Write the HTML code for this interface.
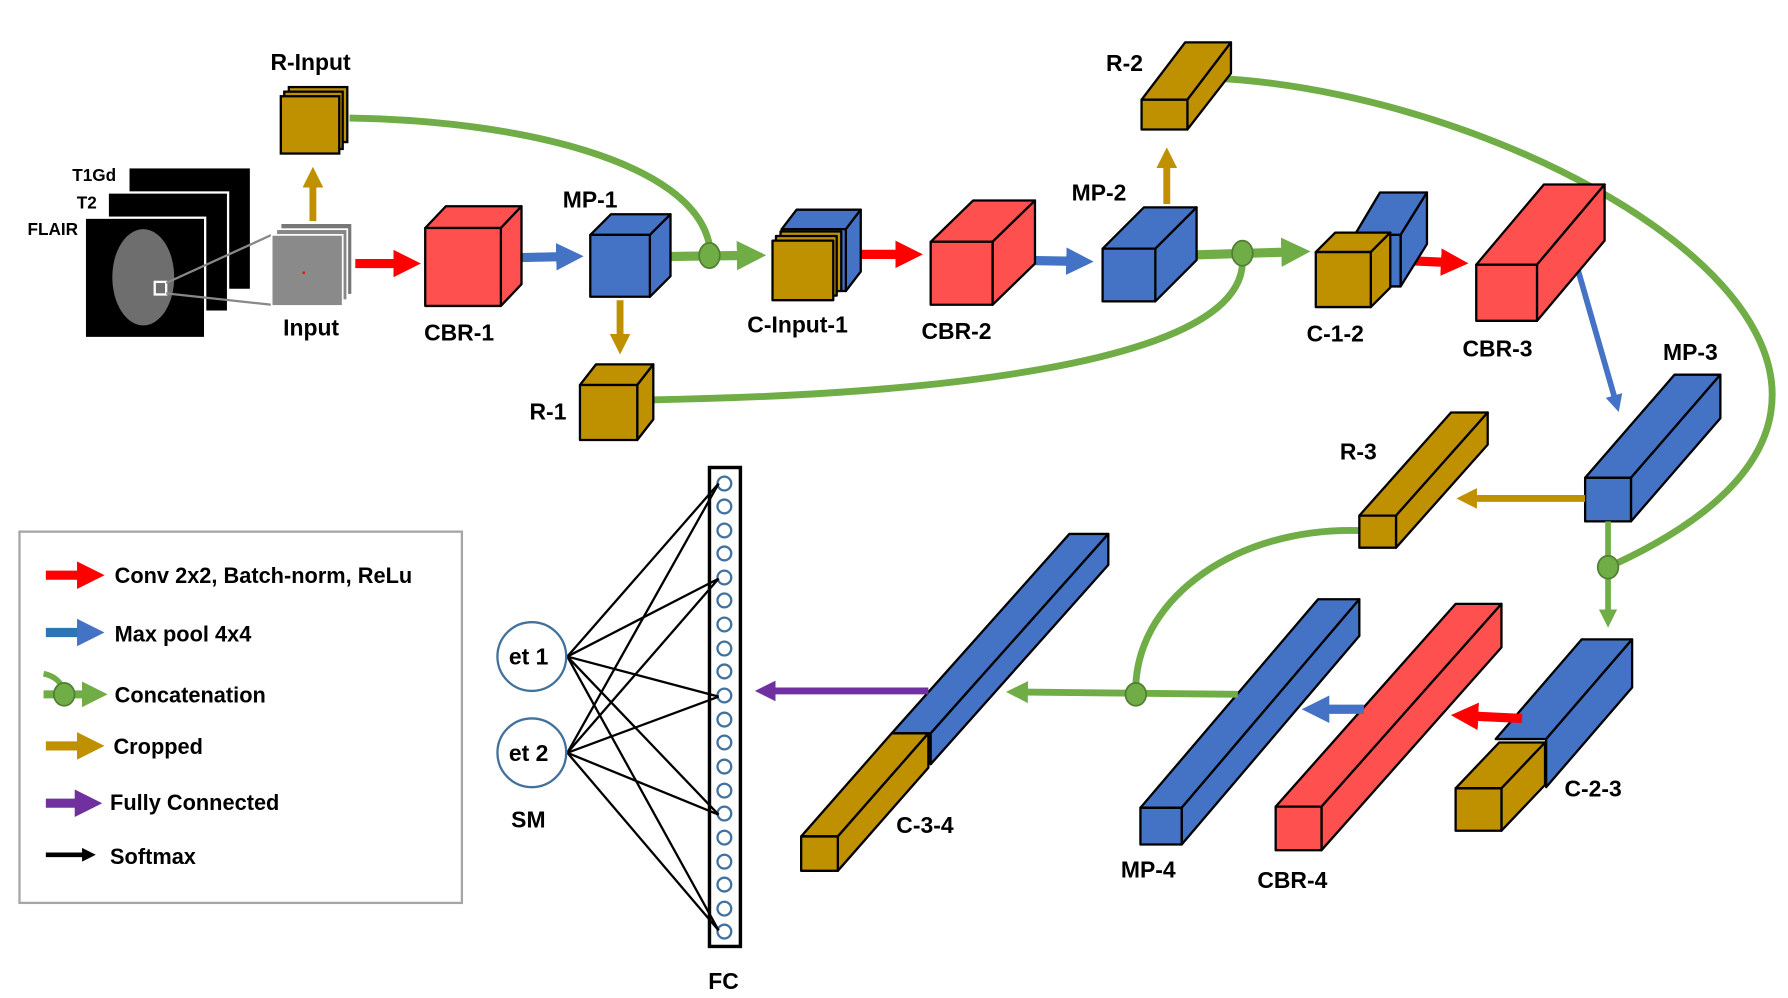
<!DOCTYPE html>
<html><head><meta charset="utf-8"><style>
html,body{margin:0;padding:0;background:#fff;}
svg{display:block;}
text{font-family:"Liberation Sans",sans-serif;font-weight:bold;fill:#000;}
</style></head><body>
<svg width="1788" height="998" viewBox="0 0 1560 871" preserveAspectRatio="none" xmlns="http://www.w3.org/2000/svg">
<defs>
<marker id="mr" viewBox="0 0 10 10" refX="2" refY="5" markerWidth="3" markerHeight="3" orient="auto"><path d="M0,0L10,5L0,10z" fill="#FF0000"/></marker>
<marker id="mb" viewBox="0 0 10 10" refX="2" refY="5" markerWidth="3" markerHeight="3" orient="auto"><path d="M0,0L10,5L0,10z" fill="#4472C4"/></marker>
<marker id="mg" viewBox="0 0 10 10" refX="2" refY="5" markerWidth="3.2" markerHeight="3.2" orient="auto"><path d="M0,0L10,5L0,10z" fill="#70AD47"/></marker>
<marker id="my" viewBox="0 0 10 10" refX="2" refY="5" markerWidth="3" markerHeight="3" orient="auto"><path d="M0,0L10,5L0,10z" fill="#BF9000"/></marker>
<marker id="mp" viewBox="0 0 10 10" refX="2" refY="5" markerWidth="3" markerHeight="3" orient="auto"><path d="M0,0L10,5L0,10z" fill="#7030A0"/></marker>
<marker id="mk" viewBox="0 0 10 10" refX="2" refY="5" markerWidth="3" markerHeight="3" orient="auto"><path d="M0,0L10,5L0,10z" fill="#000"/></marker>
</defs>

<g fill="none" stroke="#70AD47" stroke-width="6">
<path d="M305,103 C450,105 605,140 619,214"/>
<path d="M566,349 C800,345 1080,320 1084,230"/>
<path d="M1055,68 C1350,80 1770,330 1403,495"/>
<path d="M1186,463 C1080,460 995,520 991,597"/>
</g>

<rect x="113" y="147" width="105" height="105" fill="#000"/>
<rect x="94" y="168" width="105" height="104" fill="#000" stroke="#fff" stroke-width="2"/>
<rect x="74" y="190" width="105" height="105" fill="#000" stroke="#fff" stroke-width="2"/>
<ellipse cx="125" cy="242" rx="27" ry="42" fill="#6e6e6e"/>
<rect x="135" y="246" width="10" height="11" fill="none" stroke="#fff" stroke-width="2"/>
<line x1="145" y1="247" x2="237" y2="205" stroke="#888" stroke-width="2"/>
<line x1="145" y1="256" x2="237" y2="266" stroke="#888" stroke-width="2"/>
<text x="63" y="158" font-size="15">T1Gd</text>
<text x="67" y="182" font-size="15">T2</text>
<text x="24" y="205" font-size="15">FLAIR</text>

<rect x="245" y="195" width="62" height="62" fill="#777" stroke="#fff" stroke-width="1"/>
<rect x="241" y="200" width="62" height="62" fill="#888" stroke="#fff" stroke-width="1.5"/>
<rect x="237" y="205" width="62" height="62" fill="#8a8a8a" stroke="#fff" stroke-width="1.5"/>
<rect x="264" y="237" width="2" height="2" fill="red"/>
<text x="247" y="293" font-size="20">Input</text>

<rect x="252" y="76" width="51" height="48" fill="#BF9000" stroke="#000" stroke-width="2"/>
<rect x="248" y="80" width="51" height="50" fill="#BF9000" stroke="#000" stroke-width="2"/>
<rect x="245" y="84" width="51" height="50" fill="#BF9000" stroke="#000" stroke-width="2"/>
<text x="236" y="61" font-size="20">R-Input</text>

<line x1="273" y1="193" x2="273" y2="160" stroke="#BF9000" stroke-width="6" marker-end="url(#my)"/>
<line x1="310" y1="230" x2="348" y2="230" stroke="#FF0000" stroke-width="8" marker-end="url(#mr)"/>
<line x1="443" y1="225" x2="490" y2="224" stroke="#4472C4" stroke-width="8" marker-end="url(#mb)"/>
<line x1="541" y1="262" x2="541" y2="295" stroke="#BF9000" stroke-width="6" marker-end="url(#my)"/>
<line x1="570" y1="224" x2="648" y2="223" stroke="#70AD47" stroke-width="8" marker-end="url(#mg)"/>
<ellipse cx="619" cy="223" rx="9" ry="11" fill="#70AD47" stroke="#507E32" stroke-width="1.5"/>
<line x1="737" y1="222" x2="786" y2="222" stroke="#FF0000" stroke-width="8" marker-end="url(#mr)"/>
<line x1="880" y1="227" x2="935" y2="228" stroke="#4472C4" stroke-width="8" marker-end="url(#mb)"/>
<line x1="1018" y1="178" x2="1018" y2="143" stroke="#BF9000" stroke-width="6" marker-end="url(#my)"/>
<line x1="1025" y1="223" x2="1123" y2="220" stroke="#70AD47" stroke-width="8" marker-end="url(#mg)"/>
<ellipse cx="1084" cy="221" rx="9" ry="11" fill="#70AD47" stroke="#507E32" stroke-width="1.5"/>
<line x1="1217" y1="227" x2="1262" y2="229" stroke="#FF0000" stroke-width="8" marker-end="url(#mr)"/>
<line x1="1374" y1="226" x2="1409" y2="348" stroke="#4472C4" stroke-width="5" marker-end="url(#mb)"/>

<g stroke="#000" stroke-width="2" stroke-linejoin="round">
<polygon points="371,199 389,180 455,180 437,199" fill="#FF5050"/>
<polygon points="437,199 455,180 455,248 437,267" fill="#FF5050"/>
<rect x="371" y="199" width="66" height="68" fill="#FF5050"/>
<polygon points="515,205 533,187 585,187 567,205" fill="#4472C4"/>
<polygon points="567,205 585,187 585,241 567,259" fill="#4472C4"/>
<rect x="515" y="205" width="52" height="54" fill="#4472C4"/>
<polygon points="506,336 520,318 570,318 556,336" fill="#BF9000"/>
<polygon points="556,336 570,318 570,366 556,384" fill="#BF9000"/>
<rect x="506" y="336" width="50" height="48" fill="#BF9000"/>
<polygon points="682,200 695,183 751,183 738,200" fill="#4472C4"/>
<polygon points="738,200 751,183 751,237 738,254" fill="#4472C4"/>
<rect x="682" y="200" width="56" height="54" fill="#4472C4"/>
<rect x="681" y="202" width="53" height="52" fill="#BF9000"/>
<rect x="677" y="206" width="53" height="52" fill="#BF9000"/>
<rect x="674" y="210" width="53" height="52" fill="#BF9000"/>
<polygon points="812,211 849,175 903,175 866,211" fill="#FF5050"/>
<polygon points="866,211 903,175 903,230 866,266" fill="#FF5050"/>
<rect x="812" y="211" width="54" height="55" fill="#FF5050"/>
<polygon points="962,217 998,181 1044,181 1008,217" fill="#4472C4"/>
<polygon points="1008,217 1044,181 1044,227 1008,263" fill="#4472C4"/>
<rect x="962" y="217" width="46" height="46" fill="#4472C4"/>
<polygon points="996,87 1034,37 1074,37 1036,87" fill="#BF9000"/>
<polygon points="1036,87 1074,37 1074,64 1036,113" fill="#BF9000"/>
<rect x="996" y="87" width="40" height="26" fill="#BF9000"/>
<polygon points="1182,205 1204,168 1245,168 1222,205" fill="#4472C4"/>
<polygon points="1222,205 1245,168 1245,213 1222,250" fill="#4472C4"/>
<rect x="1182" y="205" width="40" height="45" fill="#4472C4"/>
<polygon points="1148,220 1165,203 1213,203 1196,220" fill="#BF9000"/>
<polygon points="1196,220 1213,203 1213,251 1196,268" fill="#BF9000"/>
<rect x="1148" y="220" width="48" height="48" fill="#BF9000"/>
<polygon points="1288,231 1347,161 1400,161 1341,231" fill="#FF5050"/>
<polygon points="1341,231 1400,161 1400,210 1341,280" fill="#FF5050"/>
<rect x="1288" y="231" width="53" height="49" fill="#FF5050"/>
<polygon points="1383,417 1461,327 1501,327 1423,417" fill="#4472C4"/>
<polygon points="1423,417 1501,327 1501,365 1423,455" fill="#4472C4"/>
<rect x="1383" y="417" width="40" height="38" fill="#4472C4"/>
<polygon points="1186,450 1266,360 1298,360 1218,450" fill="#BF9000"/>
<polygon points="1218,450 1298,360 1298,388 1218,478" fill="#BF9000"/>
<rect x="1186" y="450" width="32" height="28" fill="#BF9000"/>
</g>

<line x1="1383" y1="435" x2="1285" y2="435" stroke="#BF9000" stroke-width="6" marker-end="url(#my)"/>
<line x1="1403" y1="455" x2="1403" y2="535" stroke="#70AD47" stroke-width="5" marker-end="url(#mg)"/>
<ellipse cx="1403" cy="495" rx="9" ry="10" fill="#70AD47" stroke="#507E32" stroke-width="1.5"/>

<g stroke="#000" stroke-width="2" stroke-linejoin="round">
<polygon points="1305,645 1380,558 1424,558 1349,645" fill="#4472C4"/>
<polygon points="1349,645 1424,558 1424,600 1349,687" fill="#4472C4"/>
<polygon points="1270,688 1308,648 1348,648 1310,688" fill="#BF9000"/>
<polygon points="1310,688 1348,648 1348,685 1310,725" fill="#BF9000"/>
<rect x="1270" y="688" width="40" height="37" fill="#BF9000"/>
<polygon points="1113,704 1270,527 1310,527 1153,704" fill="#FF5050"/>
<polygon points="1153,704 1310,527 1310,565 1153,742" fill="#FF5050"/>
<rect x="1113" y="704" width="40" height="38" fill="#FF5050"/>
<polygon points="995,705 1150,523 1186,523 1031,705" fill="#4472C4"/>
<polygon points="1031,705 1186,523 1186,555 1031,737" fill="#4472C4"/>
<rect x="995" y="705" width="36" height="32" fill="#4472C4"/>
<polygon points="778,640 933,466 967,466 812,640" fill="#4472C4"/>
<polygon points="812,640 967,466 967,493 812,667" fill="#4472C4"/>
<polygon points="699,730 778,640 810,640 731,730" fill="#BF9000"/>
<polygon points="731,730 810,640 810,670 731,760" fill="#BF9000"/>
<rect x="699" y="730" width="32" height="30" fill="#BF9000"/>
</g>

<line x1="1328" y1="627" x2="1285" y2="625" stroke="#FF0000" stroke-width="8" marker-end="url(#mr)"/>
<line x1="1190" y1="619" x2="1155" y2="619" stroke="#4472C4" stroke-width="8" marker-end="url(#mb)"/>
<line x1="1080" y1="606" x2="893" y2="604" stroke="#70AD47" stroke-width="6" marker-end="url(#mg)"/>
<ellipse cx="991" cy="606" rx="9" ry="10" fill="#70AD47" stroke="#507E32" stroke-width="1.5"/>
<line x1="810" y1="603" x2="673" y2="603" stroke="#7030A0" stroke-width="6" marker-end="url(#mp)"/>

<rect x="619" y="408" width="27" height="418" fill="#fff" stroke="#000" stroke-width="3"/>
<g fill="none" stroke="#41719C" stroke-width="2">
<circle cx="632" cy="422" r="6"/><circle cx="632" cy="442" r="6"/><circle cx="632" cy="463" r="6"/><circle cx="632" cy="483" r="6"/><circle cx="632" cy="504" r="6"/><circle cx="632" cy="524" r="6"/><circle cx="632" cy="545" r="6"/><circle cx="632" cy="566" r="6"/><circle cx="632" cy="586" r="6"/><circle cx="632" cy="607" r="6"/><circle cx="632" cy="628" r="6"/><circle cx="632" cy="648" r="6"/><circle cx="632" cy="669" r="6"/><circle cx="632" cy="690" r="6"/><circle cx="632" cy="710" r="6"/><circle cx="632" cy="731" r="6"/><circle cx="632" cy="752" r="6"/><circle cx="632" cy="772" r="6"/><circle cx="632" cy="793" r="6"/><circle cx="632" cy="813" r="6"/>
</g>
<g stroke="#000" stroke-width="2">
<line x1="495" y1="573" x2="627" y2="422"/><line x1="495" y1="573" x2="627" y2="608"/><line x1="495" y1="573" x2="627" y2="711"/><line x1="495" y1="573" x2="627" y2="812"/>
<line x1="495" y1="657" x2="627" y2="422"/><line x1="495" y1="657" x2="627" y2="505"/><line x1="495" y1="657" x2="627" y2="608"/><line x1="495" y1="657" x2="627" y2="711"/><line x1="495" y1="657" x2="627" y2="812"/>
<line x1="495" y1="573" x2="627" y2="505"/>
</g>
<circle cx="464" cy="573" r="30" fill="#fff" stroke="#41719C" stroke-width="2"/>
<circle cx="464" cy="657" r="30" fill="#fff" stroke="#41719C" stroke-width="2"/>
<text x="444" y="580" font-size="20">et 1</text>
<text x="444" y="664" font-size="20">et 2</text>
<text x="446" y="722" font-size="20">SM</text>
<text x="618" y="863" font-size="20">FC</text>

<g font-size="20">
<text x="370" y="297">CBR-1</text>
<text x="491" y="181">MP-1</text>
<text x="462" y="366">R-1</text>
<text x="652" y="290">C-Input-1</text>
<text x="804" y="296">CBR-2</text>
<text x="935" y="175">MP-2</text>
<text x="965" y="62">R-2</text>
<text x="1140" y="298">C-1-2</text>
<text x="1276" y="311">CBR-3</text>
<text x="1451" y="314">MP-3</text>
<text x="1169" y="401">R-3</text>
<text x="1365" y="695">C-2-3</text>
<text x="1097" y="775">CBR-4</text>
<text x="978" y="766">MP-4</text>
<text x="782" y="727">C-3-4</text>
</g>

<rect x="17" y="464" width="386" height="324" fill="none" stroke="#A6A6A6" stroke-width="2"/>
<line x1="40" y1="502" x2="72" y2="502" stroke="#FF0000" stroke-width="8" marker-end="url(#mr)"/>
<line x1="40" y1="552" x2="72" y2="552" stroke="#2E75B6" stroke-width="8" marker-end="url(#mb)"/>
<path d="M38,588 C48,590 54,596 56,604" fill="none" stroke="#70AD47" stroke-width="5"/>
<line x1="38" y1="606" x2="76" y2="606" stroke="#70AD47" stroke-width="7" marker-end="url(#mg)"/>
<ellipse cx="56" cy="606" rx="9" ry="10" fill="#70AD47" stroke="#507E32" stroke-width="1.5"/>
<line x1="40" y1="651" x2="72" y2="651" stroke="#BF9000" stroke-width="8" marker-end="url(#my)"/>
<line x1="40" y1="701" x2="70" y2="701" stroke="#7030A0" stroke-width="8" marker-end="url(#mp)"/>
<line x1="40" y1="746" x2="74" y2="746" stroke="#000" stroke-width="4" marker-end="url(#mk)"/>
<g font-size="19">
<text x="100" y="509">Conv 2x2, Batch-norm, ReLu</text>
<text x="100" y="560">Max pool 4x4</text>
<text x="100" y="613">Concatenation</text>
<text x="99" y="658">Cropped</text>
<text x="96" y="707">Fully Connected</text>
<text x="96" y="754">Softmax</text>
</g>
</svg>
</body></html>
